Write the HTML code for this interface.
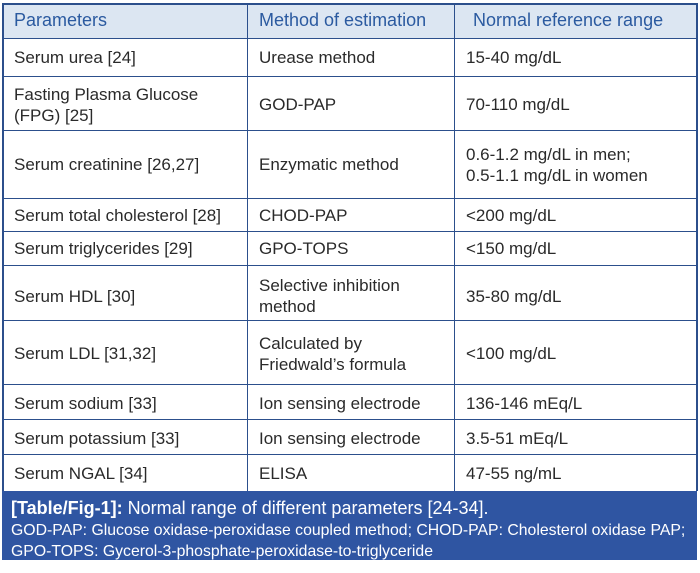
<!DOCTYPE html>
<html><head><style>
body{margin:0;width:700px;height:573px;background:#fff;font-family:"Liberation Sans",sans-serif;position:relative;overflow:hidden}
.h{position:absolute;left:2px;top:3px;width:695px;height:35px;background:#dce6f2}
.l{position:absolute;background:#2c4f8c}
.t{position:absolute;font-size:17px;color:#2a2a2a;line-height:21px}
.b{color:#2b5aa0;font-size:18px}
.cap{position:absolute;left:2px;top:491px;width:695px;height:69px;background:#2f55a2;color:#fff}
</style></head><body>
<div class="h"></div>
<div class="cap">
<div style="position:absolute;left:9px;top:7px;font-size:18px;white-space:nowrap"><b>[Table/Fig-1]:</b> Normal range of different parameters [24-34].</div>
<div style="position:absolute;left:9px;top:31px;font-size:15.8px;line-height:18px;white-space:nowrap">GOD-PAP: Glucose oxidase-peroxidase coupled method; CHOD-PAP: Cholesterol oxidase PAP;</div>
<div style="position:absolute;left:9px;top:52px;font-size:15.8px;line-height:18px;white-space:nowrap">GPO-TOPS: Gycerol-3-phosphate-peroxidase-to-triglyceride</div>
</div>
<div class="l" style="left:2px;top:3px;width:696px;height:2px"></div>
<div class="l" style="left:2px;top:38px;width:696px;height:1px"></div>
<div class="l" style="left:2px;top:76px;width:696px;height:1px"></div>
<div class="l" style="left:2px;top:130px;width:696px;height:1px"></div>
<div class="l" style="left:2px;top:198px;width:696px;height:1px"></div>
<div class="l" style="left:2px;top:231px;width:696px;height:1px"></div>
<div class="l" style="left:2px;top:265px;width:696px;height:1px"></div>
<div class="l" style="left:2px;top:320px;width:696px;height:1px"></div>
<div class="l" style="left:2px;top:384px;width:696px;height:1px"></div>
<div class="l" style="left:2px;top:419px;width:696px;height:1px"></div>
<div class="l" style="left:2px;top:454px;width:696px;height:1px"></div>
<div class="l" style="left:2px;top:3px;width:2px;height:488px"></div>
<div class="l" style="left:247px;top:3px;width:1px;height:488px"></div>
<div class="l" style="left:454px;top:3px;width:1px;height:488px"></div>
<div class="l" style="left:696px;top:3px;width:2px;height:488px"></div>

<div class="t b" style="left:14px;top:10px">Parameters</div>
<div class="t b" style="left:259px;top:10px">Method of estimation</div>
<div class="t b" style="left:473px;top:10px">Normal reference range</div>

<div class="t" style="left:14px;top:47px">Serum urea [24]</div>
<div class="t" style="left:259px;top:47px">Urease method</div>
<div class="t" style="left:466px;top:47px">15-40 mg/dL</div>

<div class="t" style="left:14px;top:84px">Fasting Plasma Glucose<br>(FPG) [25]</div>
<div class="t" style="left:259px;top:94px">GOD-PAP</div>
<div class="t" style="left:466px;top:94px">70-110 mg/dL</div>

<div class="t" style="left:14px;top:154px">Serum creatinine [26,27]</div>
<div class="t" style="left:259px;top:154px">Enzymatic method</div>
<div class="t" style="left:466px;top:144px">0.6-1.2 mg/dL in men;<br>0.5-1.1 mg/dL in women</div>

<div class="t" style="left:14px;top:205px">Serum total cholesterol [28]</div>
<div class="t" style="left:259px;top:205px">CHOD-PAP</div>
<div class="t" style="left:466px;top:205px">&lt;200 mg/dL</div>

<div class="t" style="left:14px;top:238px">Serum triglycerides [29]</div>
<div class="t" style="left:259px;top:238px">GPO-TOPS</div>
<div class="t" style="left:466px;top:238px">&lt;150 mg/dL</div>

<div class="t" style="left:14px;top:286px">Serum HDL [30]</div>
<div class="t" style="left:259px;top:275px">Selective inhibition<br>method</div>
<div class="t" style="left:466px;top:286px">35-80 mg/dL</div>

<div class="t" style="left:14px;top:343px">Serum LDL [31,32]</div>
<div class="t" style="left:259px;top:333px">Calculated by<br>Friedwald’s formula</div>
<div class="t" style="left:466px;top:343px">&lt;100 mg/dL</div>

<div class="t" style="left:14px;top:393px">Serum sodium [33]</div>
<div class="t" style="left:259px;top:393px">Ion sensing electrode</div>
<div class="t" style="left:466px;top:393px">136-146 mEq/L</div>

<div class="t" style="left:14px;top:428px">Serum potassium [33]</div>
<div class="t" style="left:259px;top:428px">Ion sensing electrode</div>
<div class="t" style="left:466px;top:428px">3.5-51 mEq/L</div>

<div class="t" style="left:14px;top:463px">Serum NGAL [34]</div>
<div class="t" style="left:259px;top:463px">ELISA</div>
<div class="t" style="left:466px;top:463px">47-55 ng/mL</div>
</body></html>
